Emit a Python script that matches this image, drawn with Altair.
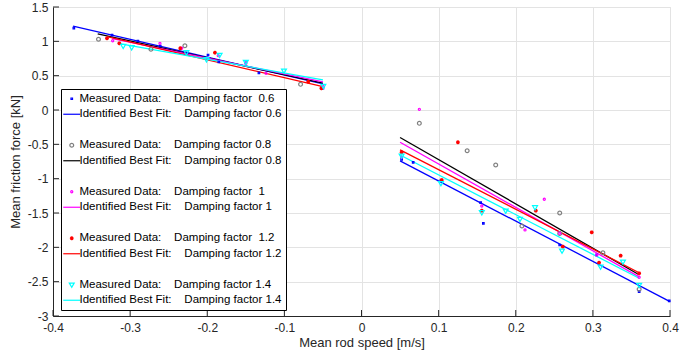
import altair as alt
import pandas as pd

# ---------------- data ----------------
factors = ["0.6", "0.8", "1", "1.2", "1.4"]
meas_labels = [
    "Measured Data:    Damping factor  0.6",
    "Measured Data:    Damping factor 0.8",
    "Measured Data:    Damping factor  1",
    "Measured Data:    Damping factor  1.2",
    "Measured Data:    Damping factor 1.4",
]
fit_labels = [
    "Identified Best Fit:    Damping factor 0.6",
    "Identified Best Fit:    Damping factor 0.8",
    "Identified Best Fit:    Damping factor 1",
    "Identified Best Fit:    Damping factor 1.2",
    "Identified Best Fit:    Damping factor 1.4",
]
meas_colors = ["#0000ff", "#808080", "#ff00ff", "#ff0000", "#00ffff"]
fit_colors = ["#0000ff", "#000000", "#ff00ff", "#ff0000", "#00ffff"]

# measured points
x_06 = [-0.373, -0.3235, -0.290, -0.261, -0.226, -0.199, -0.185, -0.150, -0.133, -0.050,
        0.052, 0.067, 0.103, 0.1545, 0.158, 0.257, 0.305, 0.360, 0.399]
y_06 = [1.194, 1.092, 1.005, 0.932, 0.830, 0.801, 0.699, 0.685, 0.539, 0.320,
        -0.718, -0.762, -1.03, -1.35, -1.65, -1.966, -2.11, -2.646, -2.78]
x_08 = [-0.341, -0.273, -0.229, -0.079, 0.075, 0.137, 0.174, 0.208, 0.257, 0.257, 0.313, 0.360]
y_08 = [1.03, 0.884, 0.936, 0.374, -0.194, -0.593, -0.801, -1.69, -1.50, -1.80, -2.08, -2.61]
x_10 = [-0.3226, -0.2613, -0.2331, -0.1857, -0.1501, -0.1238, -0.0495,
        0.075, 0.052, 0.156, 0.237, 0.212, 0.257, 0.305, 0.360]
y_10 = [1.009, 0.971, 0.899, 0.791, 0.680, 0.534, 0.339,
        0.010, -0.689, -1.398, -1.30, -1.747, -1.795, -2.111, -2.436]
x_12 = [-0.330, -0.314, -0.235, -0.190, -0.069, -0.052,
        0.052, 0.125, 0.104, 0.156, 0.226, 0.2985, 0.261, 0.308, 0.336, 0.360]
y_12 = [1.044, 0.971, 0.899, 0.835, 0.412, 0.316,
        -0.616, -0.470, -1.02, -1.466, -1.466, -1.781, -1.99, -2.224, -2.122, -2.378]
x_14 = [-0.309, -0.298, -0.227, -0.201, -0.184, -0.150, -0.1005, -0.0495,
        0.052, 0.103, 0.156, 0.187, 0.2055, 0.225, 0.260, 0.310, 0.339, 0.360]
y_14 = [0.932, 0.913, 0.840, 0.738, 0.801, 0.700, 0.572, 0.350,
        -0.665, -1.067, -1.49, -1.466, -1.587, -1.417, -2.049, -2.282, -2.209, -2.548]
meas_x = [x_06, x_08, x_10, x_12, x_14]
meas_y = [y_06, y_08, y_10, y_12, y_14]

# best-fit line end points (negative-speed branch, positive-speed branch)
fit_left_x0 = [-0.374, -0.342, -0.323, -0.330, -0.316]
fit_left_y0 = [1.22, 1.11, 1.04, 1.07, 0.97]
fit_left_x1 = [-0.05, -0.05, -0.05, -0.05, -0.05]
fit_left_y1 = [0.38, 0.39, 0.41, 0.34, 0.44]
fit_right_x0 = [0.05, 0.05, 0.05, 0.05, 0.05]
fit_right_y0 = [-0.74, -0.40, -0.47, -0.58, -0.655]
fit_right_x1 = [0.40, 0.36, 0.36, 0.36, 0.36]
fit_right_y1 = [-2.79, -2.40, -2.43, -2.37, -2.45]

x_ticks = [-0.4, -0.3, -0.2, -0.1, 0, 0.1, 0.2, 0.3, 0.4]
y_ticks = [-3, -2.5, -2, -1.5, -1, -0.5, 0, 0.5, 1, 1.5]

# ---------------- build tables ----------------
def nb(s):
    return s.replace("  ", " \u00a0")

meas_labels = [nb(s) for s in meas_labels]
fit_labels = [nb(s) for s in fit_labels]

pts = []
for lab, xs, ys in zip(meas_labels, meas_x, meas_y):
    for xv, yv in zip(xs, ys):
        pts.append({"series": lab, "x": xv, "y": yv})
df_pts = pd.DataFrame(pts)

lines = []
for i, lab in enumerate(fit_labels):
    lines += [
        {"series": lab, "seg": f"{i}L", "hex": fit_colors[i], "x": fit_left_x0[i], "y": fit_left_y0[i]},
        {"series": lab, "seg": f"{i}L", "hex": fit_colors[i], "x": fit_left_x1[i], "y": fit_left_y1[i]},
        {"series": lab, "seg": f"{i}R", "hex": fit_colors[i], "x": fit_right_x0[i], "y": fit_right_y0[i]},
        {"series": lab, "seg": f"{i}R", "hex": fit_colors[i], "x": fit_right_x1[i], "y": fit_right_y1[i]},
    ]
df_lines = pd.DataFrame(lines)

# marker shapes (unit paths, drawn with stroke only)
SH_DOT = "M-0.18,-0.18H0.18V0.18H-0.18Z"
SH_CIRC = "M0.45,0A0.45,0.45,0,1,1,-0.45,0A0.45,0.45,0,1,1,0.45,0Z"
SH_MDOT = "M0.25,0A0.25,0.25,0,1,1,-0.25,0A0.25,0.25,0,1,1,0.25,0Z"
SH_AST = "M-0.45,0H0.45M0,-0.45V0.45M-0.32,-0.32L0.32,0.32M-0.32,0.32L0.32,-0.32"
SH_TRI = "M-0.58,-0.38L0.58,-0.38L0,0.62Z"
SH_LINE = "M-2,0H2"
SH_NONE = "M0,0"
meas_shapes = [SH_DOT, SH_CIRC, SH_MDOT, SH_AST, SH_TRI]

# legend domain (with blank gap rows between pairs)
domain, colors, shapes = [], [], []
for i in range(5):
    if i > 0:
        domain.append(f"gap{i}")
        colors.append("white")
        shapes.append(SH_NONE)
    domain += [meas_labels[i], fit_labels[i]]
    colors += [meas_colors[i], fit_colors[i]]
    shapes += [meas_shapes[i], SH_LINE]

W, H = 617, 309
xscale = alt.Scale(domain=[-0.4, 0.4], nice=False, zero=False)
yscale = alt.Scale(domain=[-3, 1.5], nice=False, zero=False)
AXC = "#262626"
xaxis = alt.Axis(values=x_ticks, title="Mean rod speed [m/s]", ticks=False,
                 labelExpr="'' + datum.value", labelPadding=6, titlePadding=3,
                 domainColor=AXC, labelFlush=False)
yaxis = alt.Axis(values=y_ticks, title="Mean friction force [kN]", ticks=False,
                 labelExpr="'' + datum.value", labelPadding=5, titlePadding=5,
                 domainColor=AXC)

legend = alt.Legend(
    title=None, orient="none", legendX=8, legendY=82,
    symbolSize=72, symbolStrokeWidth=1.2, symbolOpacity=1,
    symbolOffset=1, labelOffset=2, padding=4, rowPadding=2.5,
    strokeColor="black", fillColor="white", cornerRadius=0,
    labelFontSize=11.5, labelFont="Liberation Sans", labelColor="black",
    labelLimit=400,
    labelExpr="slice(datum.label, 0, 3) == 'gap' ? '' : datum.label",
)

X = alt.X("x:Q", scale=xscale, axis=xaxis)
Y = alt.Y("y:Q", scale=yscale, axis=yaxis)

line_layer = alt.Chart(df_lines).mark_line(strokeWidth=1.3).encode(
    x=X, y=Y, color=alt.Color("hex:N", scale=None), detail="seg:N"
)
point_layer = alt.Chart(df_pts).mark_point(filled=False, size=72, strokeWidth=1.2, opacity=1).encode(
    x=X, y=Y,
    color=alt.Color("series:N", scale=alt.Scale(domain=domain, range=colors), legend=legend),
    shape=alt.Shape("series:N", scale=alt.Scale(domain=domain, range=shapes), legend=legend),
)

df_xt = pd.DataFrame({"x": x_ticks})
df_yt = pd.DataFrame({"y": y_ticks})
xtick_layer = alt.Chart(df_xt).mark_rule(color=AXC, strokeWidth=1).encode(
    x=X, y=alt.value(H), y2=alt.value(H - 6)
)
ytick_layer = alt.Chart(df_yt).mark_rule(color=AXC, strokeWidth=1).encode(
    y=Y, x=alt.value(0), x2=alt.value(6)
)

chart = alt.layer(line_layer, point_layer, xtick_layer, ytick_layer).properties(
    width=W, height=H,
    autosize=alt.AutoSizeParams(type="none"),
    padding={"left": 53, "top": 7, "right": 22, "bottom": 40},
).configure_view(
    stroke="#dedede", strokeWidth=1
).configure_axis(
    labelFont="Liberation Sans", titleFont="Liberation Sans",
    labelFontSize=12, titleFontSize=13, titleFontWeight="normal",
    labelColor=AXC, titleColor=AXC,
    gridColor="#e3e3e3", gridWidth=1, domainWidth=1,
)

chart.save("out.html", embed_options={"renderer": "svg", "actions": False})
